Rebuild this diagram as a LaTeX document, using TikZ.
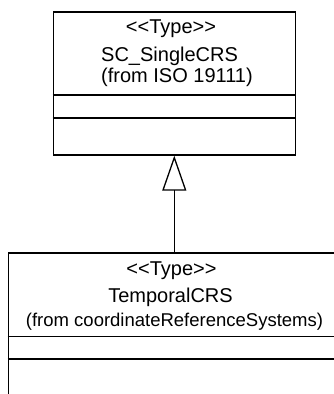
\documentclass[tikz,border=0pt]{standalone}
\usepackage{fontspec}
\setmainfont{Liberation Sans}
\usetikzlibrary{arrows.meta}
\tikzset{
  classbox/.style={draw, line width=1.3pt, rectangle, inner sep=0pt},
  txt/.style={inner sep=0pt, font=\fontsize{20}{24}\selectfont},
  smalltxt/.style={inner sep=0pt, font=\fontsize{18.5}{22}\selectfont},
  divider/.style={line width=1.3pt},
  gen/.style={line width=1.3pt, -{Triangle[open, length=35pt, width=24pt, line width=1.3pt]}}
}
\begin{document}
\begin{tikzpicture}[x=1pt,y=-1pt]
\useasboundingbox (0,0) rectangle (334,394);
\clip (0,0) rectangle (334,394);
% top class
\node[classbox, minimum width=242pt, minimum height=143pt] (single) at (174.3,83.5) {};
\draw[divider] (single.west |- 0,95) -- (single.east |- 0,95);
\draw[divider] (single.west |- 0,118) -- (single.east |- 0,118);
\node[txt] (s1) at (171,29) {{<}{<}Type{>}{>}};
\node[txt, anchor=west] (s2) at (101,56) {SC\_SingleCRS};
\node[txt, anchor=west] (s3) at (101,77.5) {(from ISO 19111)};
% bottom class (continues beyond the picture)
\node[classbox, minimum width=360pt, minimum height=200pt] (temporal) at (188.3,353) {};
\draw[divider] (temporal.west |- 0,336.7) -- (temporal.east |- 0,336.7);
\draw[divider] (temporal.west |- 0,359) -- (temporal.east |- 0,359);
\node[txt] (t1) at (171.5,270.5) {{<}{<}Type{>}{>}};
\node[txt] (t2) at (170.5,297) {TemporalCRS};
\node[smalltxt] (t3) at (174.5,322) {(from coordinateReferenceSystems)};
% generalization
\coordinate (j) at (temporal.north -| single.south);
\draw[gen] (j) -- (single.south);
\end{tikzpicture}
\end{document}
